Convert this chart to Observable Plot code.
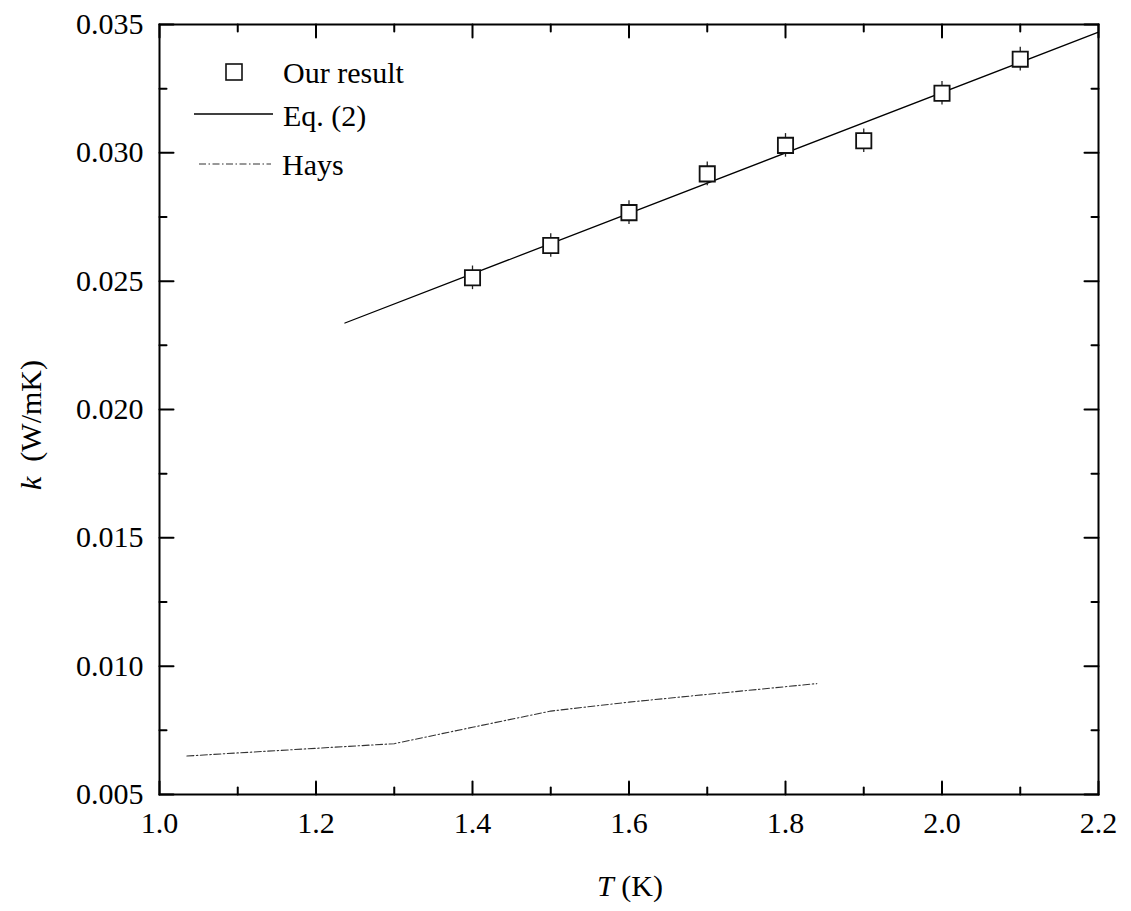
<!DOCTYPE html>
<html>
<head>
<meta charset="utf-8">
<script src="https://cdn.jsdelivr.net/npm/d3@7"></script>
<script src="https://cdn.jsdelivr.net/npm/@observablehq/plot@0.6"></script>
</head>
<body style="margin:0;background:white">
<div id="chart" style="font-family:'Liberation Serif';font-size:30px"></div>
<script>
// ---- data ----
const ourT = [1.4, 1.5, 1.6, 1.7, 1.8, 1.9, 2.0, 2.1];
const ourK = [0.02513, 0.02639, 0.02767, 0.02918, 0.03029, 0.03047, 0.03232, 0.03365];
const ourErr = [0.00046, 0.00046, 0.00046, 0.00046, 0.00046, 0.00046, 0.00046, 0.00046];

const eqT = [1.237, 2.2];
const eqK = [0.02337, 0.0347];

const haysT = [1.035, 1.1, 1.2, 1.3, 1.4, 1.5, 1.6, 1.7, 1.84];
const haysK = [0.00650, 0.00662, 0.00680, 0.00698, 0.00762, 0.00825, 0.00860, 0.00890, 0.00932];

const xMajor = [1.0, 1.2, 1.4, 1.6, 1.8, 2.0, 2.2];
const xMinor = [1.1, 1.3, 1.5, 1.7, 1.9, 2.1];
const yMajor = [0.005, 0.010, 0.015, 0.020, 0.025, 0.030, 0.035];
const yMinor = [0.0075, 0.0125, 0.0175, 0.0225, 0.0275, 0.0325];

const legendLabels = ["Our result", "Eq. (2)", "Hays"];

// ---- tables ----
const ours = ourT.map((t, i) => ({T: t, k: ourK[i], e: ourErr[i]}));
const eq = eqT.map((t, i) => ({T: t, k: eqK[i]}));
const hays = haysT.map((t, i) => ({T: t, k: haysK[i]}));

const tickShape = {draw(context, l) { context.moveTo(0, 0); context.lineTo(0, -l); }};
const tickMarks = (vals, anchor, rotate, len, sw) =>
  Plot.vector(vals, {
    ...(anchor === "bottom" || anchor === "top" ? {x: d => d} : {y: d => d}),
    frameAnchor: anchor, rotate, length: len, anchor: "start",
    shape: tickShape, strokeWidth: sw, stroke: "black"
  });

const FF = "Liberation Serif";
const FS = 30;

const chart = Plot.plot({
  width: 1131,
  height: 911,
  marginLeft: 159,
  marginRight: 33,
  marginTop: 24,
  marginBottom: 117,
  x: {domain: [1.0, 2.2]},
  y: {domain: [0.005, 0.035]},
  style: {fontSize: FS + "px", color: "black", background: "white"},
  marks: [
    Plot.axisX({ticks: xMajor, tickSize: 0, tickPadding: 17, tickFormat: d3.format(".1f"), label: null, fontFamily: FF, fontVariant: "normal"}),
    Plot.axisY({ticks: yMajor, tickSize: 0, tickPadding: 16, tickFormat: d3.format(".3f"), label: null, fontFamily: FF, fontVariant: "normal"}),
    tickMarks(xMajor, "bottom", 0, 13, 2),
    tickMarks(xMinor, "bottom", 0, 7, 2),
    tickMarks(xMajor, "top", 180, 13, 2),
    tickMarks(xMinor, "top", 180, 7, 2),
    tickMarks(yMajor, "left", 90, 14, 2),
    tickMarks(yMinor, "left", 90, 7, 2),
    tickMarks(yMajor, "right", -90, 14, 2),
    tickMarks(yMinor, "right", -90, 7, 2),
    Plot.line(hays, {x: "T", y: "k", stroke: "#333", strokeWidth: 1.1, strokeDasharray: "7,2.5,1.5,2.5"}),
    Plot.line(eq, {x: "T", y: "k", stroke: "black", strokeWidth: 1.3}),
    Plot.ruleX(ours, {x: "T", y1: d => d.k - d.e, y2: d => d.k + d.e, stroke: "#222", strokeWidth: 1.3}),
    Plot.dot(ours, {x: "T", y: "k", symbol: "square", r: 8.6, fill: "white", stroke: "#111", strokeWidth: 1.8}),
    Plot.frame({stroke: "black", strokeWidth: 2})
  ]
});

const svg = d3.select(chart).attr("font-family", FF);

// legend
const lg = svg.append("g");
lg.append("rect").attr("x", 226).attr("y", 64).attr("width", 16).attr("height", 16)
  .attr("fill", "white").attr("stroke", "#111").attr("stroke-width", 1.6);
lg.append("line").attr("x1", 194).attr("x2", 273).attr("y1", 114).attr("y2", 114)
  .attr("stroke", "black").attr("stroke-width", 1.3);
lg.append("line").attr("x1", 199).attr("x2", 271).attr("y1", 164).attr("y2", 164)
  .attr("stroke", "#333").attr("stroke-width", 1.1).attr("stroke-dasharray", "7,2.5,1.5,2.5");
[[283, 83], [283, 126], [282, 175]].forEach(([x, y], i) => {
  lg.append("text").attr("x", x).attr("y", y).attr("text-anchor", "start")
    .attr("font-size", FS).attr("fill", "black").text(legendLabels[i]);
});

// axis titles
const xt = svg.append("text").attr("font-size", FS)
  .attr("x", 630).attr("y", 896).attr("text-anchor", "middle").attr("fill", "black");
xt.append("tspan").attr("font-style", "italic").text("T");
xt.append("tspan").text(" (K)");

const yt = svg.append("text").attr("font-size", FS)
  .attr("transform", "translate(41,425) rotate(-90)").attr("text-anchor", "middle").attr("fill", "black");
yt.append("tspan").attr("font-style", "italic").text("k");
yt.append("tspan").text("  (W/mK)");

// force the serif face with inline styles on every text node
svg.selectAll("text, tspan").each(function() {
  this.style.setProperty("font-family", "'Liberation Serif', serif", "important");
});
svg.selectAll("g").each(function() {
  this.style.setProperty("font-family", "'Liberation Serif', serif", "important");
});

document.getElementById("chart").appendChild(chart);
</script>
</body>
</html>
